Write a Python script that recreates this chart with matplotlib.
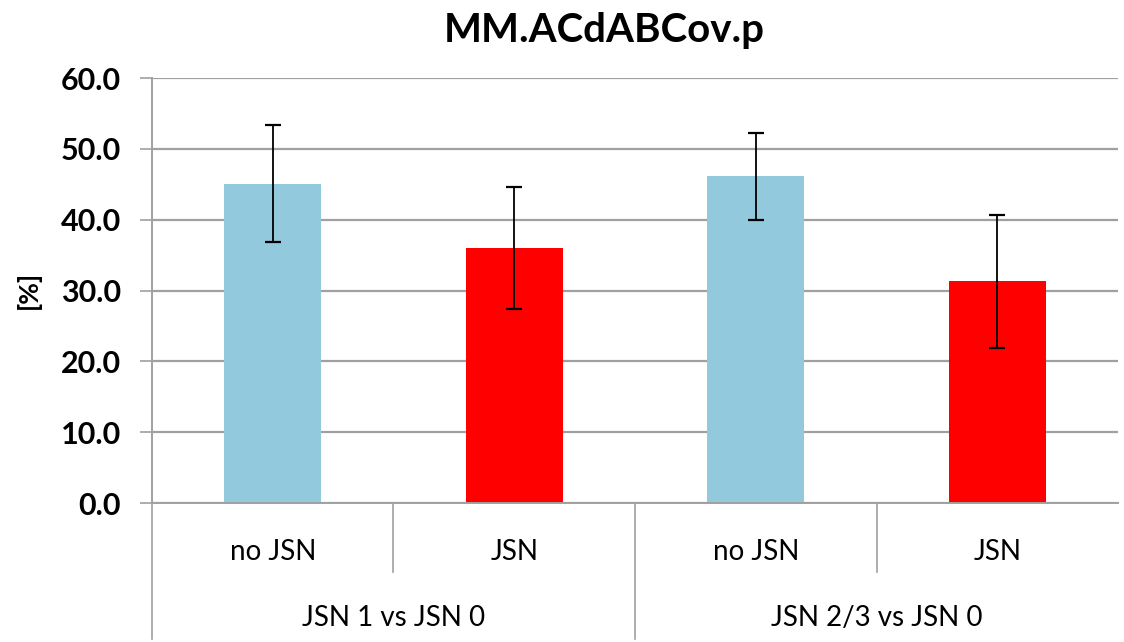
import numpy as np
import matplotlib.pyplot as plt
import matplotlib.transforms as mtransforms

plt.rcParams['font.family'] = ['Lato', 'DejaVu Sans']

title = "MM.ACdABCov.p"
sub_labels = ["no JSN", "JSN", "no JSN", "JSN"]
group_labels = ["JSN 1 vs JSN 0", "JSN 2/3 vs JSN 0"]
values = [45.1, 36.0, 46.1, 31.3]
errors = [8.3, 8.6, 6.2, 9.4]
colors = ["#92C9DC", "#FF0000", "#92C9DC", "#FF0000"]

fig = plt.figure(figsize=(11.24, 6.42), dpi=100)
ax = fig.add_axes([0.1352, 0.2165, 0.8595, 0.662])

x = np.arange(len(values))
ax.bar(x, values, width=0.4, color=colors, zorder=2)
ax.errorbar(x, values, yerr=errors, fmt="none", ecolor="black",
            elinewidth=1.3, capsize=5.5, capthick=1.6, zorder=3)

ax.set_xlim(-0.5, len(values) - 0.5)
ax.set_ylim(0, 60)
ax.set_yticks(np.arange(0, 61, 10))
ax.set_yticklabels(["{:.1f}".format(v) for v in np.arange(0, 61, 10)],
                   fontsize=22, fontweight="bold")
ax.yaxis.grid(True, color="#A0A0A0", linewidth=1.6, zorder=0)
ax.set_axisbelow(True)
ax.tick_params(axis="y", length=8.5, color="#A0A0A0", width=1.2, pad=14)
ax.set_xticks([])

for s in ["top", "right"]:
    ax.spines[s].set_visible(False)
ax.spines["left"].set_color("#A0A0A0")
ax.spines["left"].set_linewidth(1.4)
ax.spines["bottom"].set_color("#A0A0A0")
ax.spines["bottom"].set_linewidth(1.4)

fig.text(28 / 1124, 1 - 290 / 642, "[%]", rotation=90, ha="center", va="center",
         fontsize=19, fontweight="bold")
fig.text(604 / 1124, 1 - 42 / 642, title, ha="center", va="baseline",
         fontsize=29, fontweight="bold")

# two level category axis
trans = mtransforms.blended_transform_factory(ax.transData, ax.transAxes)
for i, lab in enumerate(sub_labels):
    ax.text(x[i], -0.115, lab, transform=trans, ha="center", va="center", fontsize=20)
for g, lab in enumerate(group_labels):
    ax.text(2 * g + 0.5, -0.27, lab, transform=trans, ha="center", va="center", fontsize=20)

for xs in [0.5, 2.5]:
    ax.plot([xs, xs], [0, -0.163], transform=trans, color="#A0A0A0", lw=1.2, clip_on=False)
for xs in [-0.5, 1.5]:
    ax.plot([xs, xs], [0, -0.32], transform=trans, color="#A0A0A0", lw=1.2, clip_on=False)

fig.savefig("out.png", dpi=100)
